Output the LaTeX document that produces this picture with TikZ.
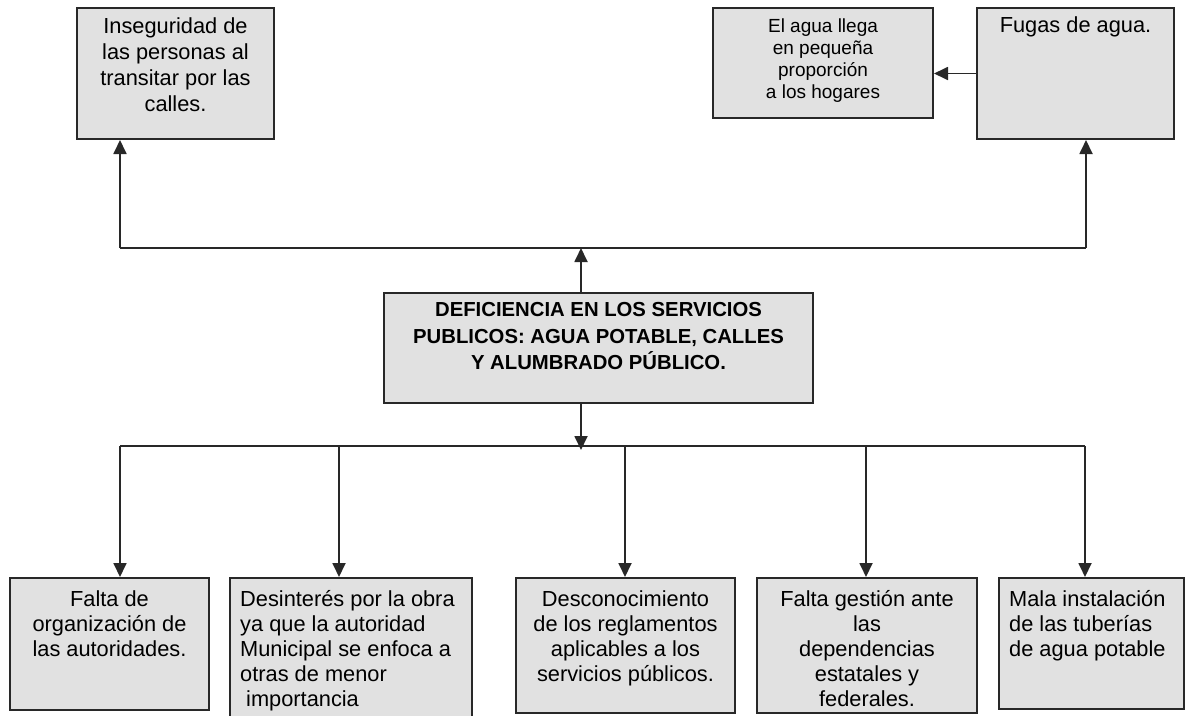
\documentclass[tikz,border=0pt]{standalone}
\usepackage{fontspec}
\setmainfont{Liberation Sans}
\usetikzlibrary{arrows.meta}
\definecolor{relleno}{RGB}{225, 225, 225}
\definecolor{borde}{RGB}{40, 40, 40}
\tikzset{
	caja/.style={draw=borde, fill=relleno, line width=2pt, anchor=north west},
	texto/.style={inner sep=0pt, anchor=north, align=center, font=\fontsize{21.8}{26}\selectfont},
	textoabajo/.style={texto, font=\fontsize{21.8}{25}\selectfont},
	flecha/.style={draw=borde, line width=1.8pt, -{Triangle[length=14pt, width=13pt]}},
	linea/.style={draw=borde, line width=1.8pt}
}

\begin{document}
\begin{tikzpicture}[x=1pt, y=-1pt]
	\useasboundingbox (0,0) rectangle (1193,715);
	% efectos
	\node[caja, minimum width=197pt, minimum height=131pt] (inseg) at (76,7) {};
	\node[caja, minimum width=220pt, minimum height=110pt] (agua) at (712,7) {};
	\node[caja, minimum width=197pt, minimum height=131pt] (fugas) at (976,7) {};
	\node[texto] (tinseg) at ([yshift=-11pt]inseg.north) {Inseguridad de\\las personas al\\transitar por las\\calles.};
	\node[texto, font=\fontsize{19}{22}\selectfont] (tagua) at ([yshift=-12pt]agua.north) {El agua llega\\en pequeña\\proporción\\a los hogares};
	\node[texto] (tfugas) at ([yshift=-10pt]fugas.north) {Fugas de agua.};
	% problema central
	\node[caja, minimum width=429pt, minimum height=110pt] (central) at (383,292) {};
	\node[texto, font=\bfseries\fontsize{20.3}{26.7}\selectfont] (tcentral) at ([yshift=-10pt]central.north) {DEFICIENCIA EN LOS SERVICIOS\\PUBLICOS: AGUA POTABLE, CALLES\\Y ALUMBRADO PÚBLICO.};
	% causas
	\node[caja, minimum width=199pt, minimum height=132pt] (falta) at (9,577) {};
	\node[caja, minimum width=242pt, minimum height=145pt] (desint) at (229,577) {};
	\node[caja, minimum width=219pt, minimum height=135pt] (descon) at (515,577) {};
	\node[caja, minimum width=220pt, minimum height=135pt] (gestion) at (756,577) {};
	\node[caja, minimum width=185pt, minimum height=131pt] (tuberia) at (998,577) {};
	\node[textoabajo] (tfalta) at ([yshift=-13pt]falta.north) {Falta de\\organización de\\las autoridades.};
	\node[textoabajo, anchor=north west, align=left] (tdesint) at ([xshift=11pt, yshift=-13pt]desint.north west) {Desinterés por la obra\\ya que la autoridad\\Municipal se enfoca a\\otras de menor\\\hspace*{6pt}importancia};
	\node[textoabajo] (tdescon) at ([yshift=-13pt]descon.north) {Desconocimiento\\de los reglamentos\\aplicables a los\\servicios públicos.};
	\node[textoabajo] (tgestion) at ([yshift=-13pt]gestion.north) {Falta gestión ante\\las\\dependencias\\estatales y\\federales.};
	\node[textoabajo, anchor=north west, align=left] (ttuberia) at ([xshift=11pt, yshift=-13pt]tuberia.north west) {Mala instalación\\de las tuberías\\de agua potable};
	% conectores
	\coordinate (ja) at (581,248);
	\coordinate (jb) at (581,446);
	\coordinate (ia) at (120,248);
	\coordinate (fa) at (1086,248);
	\coordinate (r1) at (120,446);
	\coordinate (r2) at (339,446);
	\coordinate (r3) at (625,446);
	\coordinate (r4) at (866,446);
	\coordinate (r5) at (1085,446);
	\draw[flecha] (ja |- central.north) -- (ja);
	\draw[linea] (ia) -- (fa);
	\draw[flecha] (ia) -- (ia |- inseg.south);
	\draw[flecha] (fa) -- (fa |- fugas.south);
	\draw[flecha] (fugas.west) -- (fugas.west -| agua.east);
	\draw[flecha] (jb |- central.south) -- ([yshift=-4pt]jb);
	\draw[linea] (r1) -- (r5);
	\draw[flecha] (r1) -- (r1 |- falta.north);
	\draw[flecha] (r2) -- (r2 |- desint.north);
	\draw[flecha] (r3) -- (r3 |- descon.north);
	\draw[flecha] (r4) -- (r4 |- gestion.north);
	\draw[flecha] (r5) -- (r5 |- tuberia.north);
\end{tikzpicture}
\end{document}
